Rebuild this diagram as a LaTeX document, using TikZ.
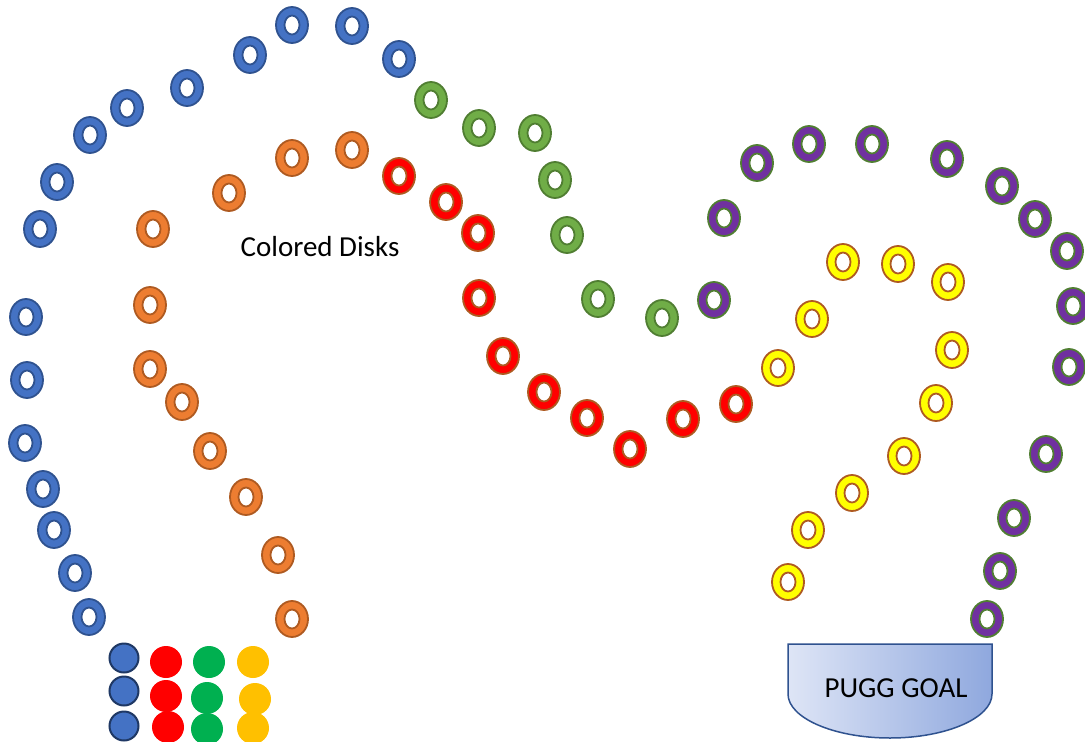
\documentclass[tikz,border=0pt]{standalone}
\usepackage{fontspec}
\setmainfont{Carlito}
\definecolor{diskblue}{RGB}{68, 114, 196}
\definecolor{diskblueline}{RGB}{47, 82, 143}
\definecolor{diskorange}{RGB}{237, 125, 49}
\definecolor{diskbrown}{RGB}{174, 90, 33}
\definecolor{diskred}{RGB}{255, 0, 0}
\definecolor{diskgreen}{RGB}{112, 173, 71}
\definecolor{diskgreenline}{RGB}{80, 126, 50}
\definecolor{diskpurple}{RGB}{112, 48, 160}
\definecolor{diskyellow}{RGB}{255, 255, 0}
\definecolor{dotnavy}{RGB}{31, 56, 100}
\definecolor{dotgreen}{RGB}{0, 176, 80}
\definecolor{dotgold}{RGB}{255, 192, 0}
\definecolor{goalleft}{RGB}{222, 229, 246}
\definecolor{goalright}{RGB}{143, 168, 222}
\usepackage{tikz}
\usetikzlibrary{shapes.geometric, positioning}
\tikzset{
  ring/.style 2 args={ellipse, fill=#1, draw=#2, line width=1.8pt, inner sep=0pt,
    minimum width=32pt, minimum height=36pt,
    path picture={\draw[#2, fill=white, line width=1.8pt] (path picture bounding box.center) ellipse (7.5pt and 9.5pt);}},
  bluering/.style={ring={diskblue}{diskblueline}},
  orangering/.style={ring={diskorange}{diskbrown}},
  redring/.style={ring={diskred}{diskbrown}},
  greenring/.style={ring={diskgreen}{diskgreenline}},
  purplering/.style={ring={diskpurple}{diskgreenline}},
  yellowring/.style={ring={diskyellow}{diskbrown}},
  dot/.style={circle, fill=#1, inner sep=0pt, minimum size=32pt}
}

\begin{document}
\begin{tikzpicture}[x=1pt, y=-1pt]
  \useasboundingbox (0,0) rectangle (1085,742);

  % Blue track
  \foreach \x/\y [count=\i] in {89/617, 75/573, 54/530, 43/489, 25/443, 27/380, 26/317,
      40/229, 57/182, 90/135, 127/108, 187/88, 250/55, 292/25, 352/26, 399/59}
    \node[bluering] (blue\i) at (\x,\y) {};

  % Orange track
  \foreach \x/\y [count=\i] in {292/619, 278/555, 246/497, 210/451, 182/402, 150/369, 150/305,
      153/229, 229/193, 292/158, 352/150}
    \node[orangering] (orange\i) at (\x,\y) {};

  % Red track
  \foreach \x/\y [count=\i] in {399/176, 446/202, 478/233, 479/298, 503/356, 544/392,
      587/418, 630/449, 683/419, 736/404}
    \node[redring] (red\i) at (\x,\y) {};

  % Green track
  \foreach \x/\y [count=\i] in {431/100, 479/128, 535/133, 555/180, 567/235, 598/299, 662/318}
    \node[greenring] (green\i) at (\x,\y) {};

  % Purple track
  \foreach \x/\y [count=\i] in {714/300, 724/218, 757/163, 809/144, 872/144, 947/159, 1002/186,
      1035/219, 1067/251, 1073/306, 1069/367, 1046/454, 1014/518, 1000/571, 987/619}
    \node[purplering] (purple\i) at (\x,\y) {};

  % Yellow track
  \foreach \x/\y [count=\i] in {778/368, 812/319, 843/262, 898/264, 948/282, 952/350,
      936/403, 904/456, 852/493, 808/530, 788/582}
    \node[yellowring] (yellow\i) at (\x,\y) {};

  \node[font=\fontsize{29}{34}\selectfont] (disks) at (320,247) {Colored Disks};

  % Disk stacks
  \foreach \y [count=\i] in {658, 691, 726} {
    \node[dot=diskblue, draw=dotnavy, line width=2pt, minimum size=29pt] (sblue\i) at (124,\y) {};
  }
  \foreach \x/\y [count=\i] in {166/662, 166/696, 168/727}
    \node[dot=diskred] (sred\i) at (\x,\y) {};
  \foreach \x/\y [count=\i] in {209/662, 207/698, 207/729}
    \node[dot=dotgreen] (sgreen\i) at (\x,\y) {};
  \foreach \x/\y [count=\i] in {253/662, 255/699, 253/728}
    \node[dot=dotgold] (sgold\i) at (\x,\y) {};

  % Goal
  \draw[diskblueline, line width=1.5pt, left color=goalleft, right color=goalright]
    (788,644) -- (992,644) -- (992,694)
    .. controls (992,718) and (946,738) .. (890,738)
    .. controls (834,738) and (788,718) .. (788,694) -- cycle;
  \node[font=\fontsize{29}{34}\selectfont] (goal) at (896,688) {PUGG GOAL};
\end{tikzpicture}
\end{document}
